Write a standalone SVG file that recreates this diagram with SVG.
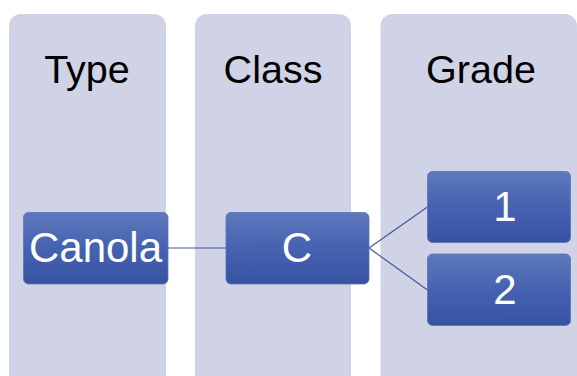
<svg xmlns="http://www.w3.org/2000/svg" width="577" height="376" viewBox="0 0 577 376">
  <defs>
    <linearGradient id="boxFill" x1="0" y1="0" x2="0" y2="1">
      <stop offset="0" stop-color="#6079bc"/>
      <stop offset="0.5" stop-color="#4562b0"/>
      <stop offset="1" stop-color="#3852a0"/>
    </linearGradient>
    <style>
      .col { fill: #d0d3e5; }
      .head { font-family: "Liberation Sans", Arial, sans-serif; font-size: 39.5px; fill: #000; text-anchor: middle; }
      .box { fill: url(#boxFill); stroke: #5a72b8; stroke-width: 0.8; }
      .label { font-family: "Liberation Sans", Arial, sans-serif; font-size: 42px; fill: #fff; text-anchor: middle; }
      .link { stroke: #3e5a9e; stroke-width: 1.2; fill: none; }
    </style>
  </defs>

  <!-- column backgrounds with headings -->
  <g id="col-type">
    <rect class="col" x="9" y="14" width="157" height="376" rx="12"/>
    <text class="head" x="87" y="83">Type</text>
  </g>
  <g id="col-class">
    <rect class="col" x="195" y="14" width="156" height="376" rx="12"/>
    <text class="head" x="273" y="83">Class</text>
  </g>
  <g id="col-grade">
    <rect class="col" x="380.5" y="14" width="196.5" height="376" rx="12"/>
    <text class="head" x="481" y="83">Grade</text>
  </g>

  <!-- connectors -->
  <g id="connectors">
    <line class="link" x1="168" y1="248" x2="226" y2="248"/>
    <line class="link" x1="369" y1="248" x2="427.5" y2="207"/>
    <line class="link" x1="369" y1="248" x2="427.5" y2="290"/>
  </g>

  <!-- nodes -->
  <g id="node-canola">
    <rect class="box" x="23.5" y="212.5" width="144.5" height="71.5" rx="5"/>
    <text class="label" x="95.5" y="262">Canola</text>
  </g>
  <g id="node-c">
    <rect class="box" x="226" y="212.5" width="143" height="71.5" rx="5"/>
    <text class="label" x="297" y="262">C</text>
  </g>
  <g id="node-1">
    <rect class="box" x="427.5" y="171.5" width="143" height="71" rx="5"/>
    <text class="label" x="505" y="221">1</text>
  </g>
  <g id="node-2">
    <rect class="box" x="427.5" y="254" width="143" height="71.5" rx="5"/>
    <text class="label" x="505" y="303.5">2</text>
  </g>
</svg>
